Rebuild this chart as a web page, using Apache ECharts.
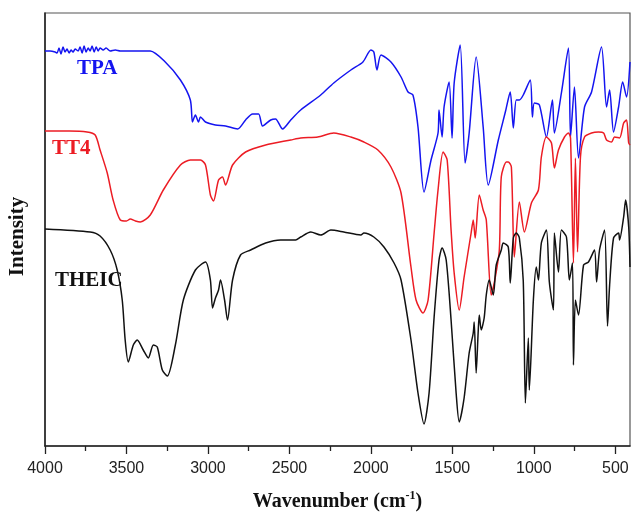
<!DOCTYPE html>
<html><head><meta charset="utf-8">
<script src="https://cdn.jsdelivr.net/npm/echarts@6/dist/echarts.min.js"></script>
<style>html,body{margin:0;padding:0;background:#fff}#c{width:631px;height:515px}</style>
</head><body><div id="c"></div>
<script>
// Wavenumber (cm-1), relative intensity (arbitrary units, offset traces)
const majorTicks = [4000,3500,3000,2500,2000,1500,1000,500];
const minorTicks = [3750,3250,2750,2250,1750,1250,750];
const seriesNames = ['TPA','TT4','THEIC'];

const tpaData = [[4000,395],[3969,395],[3938,394],[3926,393],[3914,398],[3902,392],[3889,399],[3877,394],[3865,397],[3852,393],[3840,396],[3828,394],[3815,397],[3797,395],[3785,399],[3772,393],[3760,400],[3748,394],[3735,398],[3723,395],[3711,400],[3698,394],[3686,399],[3674,395],[3662,398],[3643,396],[3625,398],[3600,395],[3569,396],[3538,395],[3477,395],[3354,395],[3262,384],[3169,366],[3108,346],[3095,324],[3077,331],[3058,324],[3046,329],[3015,324],[2954,321],[2892,320],[2818,317],[2769,326],[2726,332],[2689,332],[2665,320],[2615,326],[2585,327],[2542,317],[2492,326],[2431,336],[2308,351],[2228,363],[2123,376],[2049,384],[2000,396],[1982,394],[1963,376],[1938,391],[1877,384],[1815,369],[1772,354],[1742,351],[1711,319],[1674,254],[1631,286],[1588,313],[1582,336],[1563,309],[1551,339],[1520,364],[1502,308],[1489,363],[1452,401],[1422,283],[1397,313],[1354,389],[1311,319],[1280,261],[1218,306],[1175,334],[1145,354],[1126,318],[1108,346],[1089,346],[1065,351],[1022,366],[1009,329],[997,343],[966,341],[923,309],[886,346],[874,313],[831,353],[788,398],[775,309],[751,359],[726,288],[689,339],[646,354],[585,399],[554,339],[535,356],[511,314],[480,339],[455,364],[431,349],[410,384]];

const tt4Data = [[4000,315],[3850,315],[3742,314],[3692,311],[3662,296],[3618,273],[3582,246],[3538,226],[3500,225],[3477,227],[3445,225],[3415,224],[3354,231],[3274,256],[3169,281],[3108,286],[3046,286],[3015,281],[2985,251],[2966,245],[2935,266],[2911,269],[2892,261],[2849,281],[2769,294],[2646,301],[2492,306],[2431,308],[2326,309],[2228,313],[2123,309],[2043,304],[1957,296],[1877,279],[1815,253],[1754,179],[1723,146],[1680,133],[1649,146],[1612,213],[1588,256],[1557,294],[1532,286],[1508,216],[1489,173],[1458,136],[1428,169],[1385,213],[1372,226],[1360,208],[1335,251],[1311,236],[1292,226],[1262,151],[1243,163],[1212,196],[1200,269],[1169,284],[1157,284],[1138,279],[1120,189],[1089,244],[1058,214],[1015,243],[972,256],[954,289],[923,309],[892,303],[874,278],[849,296],[812,309],[788,313],[775,308],[757,183],[745,288],[732,194],[714,289],[689,309],[646,313],[603,314],[572,313],[554,306],[523,304],[505,309],[474,308],[449,323],[431,326],[418,303],[410,301]];

const theicData = [[4000,217],[3723,214],[3662,210],[3600,196],[3557,176],[3526,146],[3508,106],[3489,84],[3458,101],[3434,106],[3397,96],[3366,88],[3335,101],[3311,99],[3280,76],[3249,70],[3200,101],[3151,146],[3077,176],[3015,184],[2985,166],[2972,138],[2954,148],[2935,156],[2923,166],[2898,146],[2880,126],[2849,166],[2800,191],[2738,196],[2646,203],[2554,206],[2462,206],[2431,209],[2369,214],[2308,211],[2246,216],[2166,214],[2062,211],[2043,213],[1982,209],[1920,199],[1858,183],[1815,166],[1754,106],[1711,53],[1674,22],[1643,53],[1612,129],[1582,186],[1563,198],[1538,186],[1508,126],[1477,53],[1458,24],[1428,48],[1397,93],[1372,113],[1366,124],[1354,73],[1342,113],[1335,131],[1323,116],[1305,128],[1292,151],[1274,166],[1249,151],[1231,181],[1200,196],[1188,203],[1157,199],[1145,163],[1126,208],[1108,213],[1089,208],[1065,165],[1052,43],[1034,108],[1028,56],[1003,146],[985,179],[972,166],[954,203],[923,216],[905,164],[880,136],[874,213],[849,174],[831,216],[800,209],[782,166],[763,183],[757,81],[745,146],[726,131],[695,181],[665,184],[628,196],[615,164],[597,196],[566,216],[548,120],[535,161],[511,208],[480,213],[474,206],[449,229],[437,246],[418,219],[410,179]];

const colors = ['#1414f0','#ec1c24','#111111'];
const labelPos = [[77,70],[52,150],[55,282]];

const chart = echarts.init(document.getElementById('c'), null, {renderer:'canvas'});
const axisBase = {
  type:'value', inverse:true, min:410, max:4000,
  splitLine:{show:false}
};
chart.setOption({
  animation:false,
  backgroundColor:'#fff',
  grid:{left:45,right:1,top:13,bottom:69,show:true,borderColor:'#555',borderWidth:1.2,containLabel:false,outerBoundsMode:'none'},
  xAxis:[Object.assign({}, axisBase, {
    position:'bottom',
    axisLine:{show:true,lineStyle:{color:'#222',width:1.5}},
    axisTick:{show:true,length:8,inside:false,customValues:majorTicks,lineStyle:{color:'#222',width:1.3}},
    axisLabel:{show:true,customValues:majorTicks,margin:15,fontFamily:'Liberation Sans',fontSize:16,color:'#222',formatter:v=>String(v)},
    name:'{a|Wavenumber (cm}{b|-1}{a|)}',
    nameLocation:'middle', nameGap:44,
    nameTextStyle:{rich:{
      a:{fontFamily:'Liberation Serif',fontWeight:'bold',fontSize:20,color:'#111',verticalAlign:'bottom'},
      b:{fontFamily:'Liberation Serif',fontWeight:'bold',fontSize:12,color:'#111',verticalAlign:'top',padding:[0,0,10,0]}
    }}
  }), Object.assign({}, axisBase, {
    position:'bottom',
    axisLine:{show:false},
    axisTick:{show:true,length:5,inside:false,customValues:minorTicks,lineStyle:{color:'#222',width:1.3}},
    axisLabel:{show:false}
  })],
  yAxis:{
    type:'value', min:0, max:433,
    axisLine:{show:true,lineStyle:{color:'#222',width:1.5}},
    axisTick:{show:false}, axisLabel:{show:false}, splitLine:{show:false},
    name:'Intensity', nameLocation:'middle', nameRotate:90, nameGap:17,
    nameTextStyle:{fontFamily:'Liberation Serif',fontWeight:'bold',fontSize:21,color:'#111',padding:[0,14,0,0]}
  },
  graphic: seriesNames.map((n,i)=>({
    type:'text', left:labelPos[i][0], top:labelPos[i][1]-12,
    style:{text:n,fill:colors[i],font:'bold 21px "Liberation Serif"'}
  })),
  series:[tpaData,tt4Data,theicData].map((d,i)=>({
    name:seriesNames[i], type:'line', data:d, showSymbol:false, smooth:0.25,
    clip:true, lineStyle:{color:colors[i],width:1.5}, z:3
  }))
});
</script></body></html>
